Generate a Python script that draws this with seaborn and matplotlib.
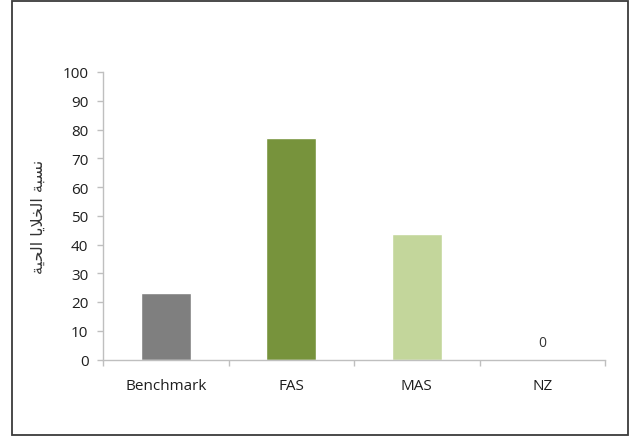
import matplotlib
matplotlib.use("Agg")
import matplotlib.pyplot as plt
from matplotlib.patches import Rectangle
from matplotlib.ticker import FixedLocator
import seaborn as sns
import pandas as pd

# Data
categories = ["Benchmark", "FAS", "MAS", "NZ"]
viability = [23, 77, 43.6, 0]
bar_colors = ["#7f7f7f", "#77933c", "#c3d69b", "#ffffff"]
y_ticks = list(range(0, 101, 10))
# Arabic axis title (pre-shaped, visual order): "نسبة الخلايا الحية"
y_title = ("\uFE94\uFEF4\uFEA4\uFEDF\uFE8D "
           "\uFE8E\uFEF3\uFEFC\uFEA8\uFEDF\uFE8D "
           "\uFE94\uFE92\uFEB4\uFEE7")
zero_labels = {"NZ": "0"}

sns.set_theme(style="white")
plt.rcParams["font.family"] = ["Open Sans", "DejaVu Sans"]

df = pd.DataFrame({"group": categories, "value": viability})

fig = plt.figure(figsize=(6.30, 4.39), dpi=100)
ax = fig.add_axes([103 / 630, 1 - 360.5 / 439, (605 - 103) / 630, (360.5 - 73) / 439])

sns.barplot(data=df, x="group", y="value", hue="group", palette=bar_colors,
            legend=False, width=0.4, saturation=1, ax=ax)

ax.set_ylim(0, 100)
ax.set_xlim(-0.5, len(categories) - 0.5)
ax.yaxis.set_major_locator(FixedLocator(y_ticks))
ax.set_xlabel("")
ax.set_ylabel(y_title, family=["DejaVu Sans"], fontsize=11.5, color="#333333", labelpad=12)

spine_color = "#bfbfbf"
for side in ["top", "right"]:
    ax.spines[side].set_visible(False)
for side in ["left", "bottom"]:
    ax.spines[side].set_color(spine_color)
    ax.spines[side].set_linewidth(1)

tick_text = "#1e1e1e"
ax.tick_params(axis="y", which="major", left=True, length=4.5, width=1,
               color=spine_color, labelsize=11, labelcolor=tick_text, pad=6)
ax.tick_params(axis="x", which="major", bottom=False, labelsize=11,
               labelcolor=tick_text, pad=7.5)
ax.xaxis.set_minor_locator(FixedLocator([-0.5 + i for i in range(len(categories) + 1)]))
ax.tick_params(axis="x", which="minor", bottom=True, length=4.5, width=1, color=spine_color)

# value label on the empty bar
for i, cat in enumerate(categories):
    if cat in zero_labels:
        ax.annotate(zero_labels[cat], xy=(i, viability[i]), xytext=(0, 12.5),
                    textcoords="offset points", ha="center", va="center",
                    fontsize=10, color="#333333")

# outer frame
fig.patches.append(Rectangle((12 / 630, 1 - 436 / 439), (628 - 12) / 630, (436 - 2) / 439,
                             transform=fig.transFigure, fill=False,
                             edgecolor="#3a3a3a", linewidth=1.3))

fig.savefig("out.png", dpi=100)
